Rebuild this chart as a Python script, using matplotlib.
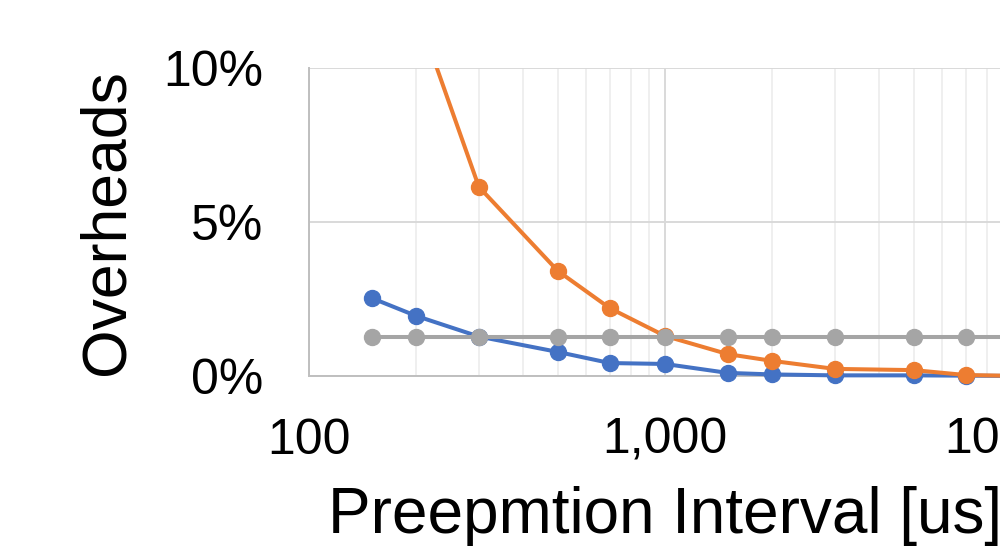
import matplotlib
matplotlib.use('Agg')
import matplotlib.pyplot as plt
from matplotlib.patches import Rectangle
from matplotlib.ticker import FixedLocator, LogLocator, NullFormatter

plt.rcParams['font.family'] = ['Liberation Sans', 'DejaVu Sans']

# preemption interval [us]
intervals = [150, 200, 300, 500, 700, 1000, 1500, 2000, 3000, 5000, 7000, 10000]
# overheads in %
blue_vals = [2.53, 1.95, 1.28, 0.78, 0.42, 0.39, 0.10, 0.05, 0.02, 0.02, 0.01, 0.0]
orange_vals = [20.0, 11.9, 6.14, 3.41, 2.2, 1.3, 0.71, 0.49, 0.23, 0.19, 0.03, 0.0]
gray_vals = [1.26] * len(intervals)

xticks = [100, 1000, 10000]
xtick_labels = ['100', '1,000', '10,000']
yticks = [0, 5, 10]
ytick_labels = ['0%', '5%', '10%']

fig = plt.figure(figsize=(10, 5.46), dpi=100)
# the axes runs a bit past the right edge, as in the cropped original
ax = fig.add_axes([0.309, 0.3114, 0.712, 0.5641])

style = dict(linewidth=2.9, marker='o', markersize=11.5, zorder=3)
ax.plot(intervals, blue_vals, color='#4472C4', clip_on=False, **style)
orange, = ax.plot(intervals, orange_vals, color='#ED7D31', **style)
ax.plot(intervals, gray_vals, color='#A5A5A5', clip_on=False, **style)

# orange goes off the top: clip only there, keep markers on the bottom edge whole
clip = Rectangle((-0.1, -0.1), 1.2, 1.1, transform=ax.transAxes, visible=False)
ax.add_patch(clip)
orange.set_clip_path(clip)

ax.set_xscale('log')
ax.set_xlim(100, 10000)
ax.set_ylim(0, 10)

ax.xaxis.set_major_locator(FixedLocator(xticks))
ax.set_xticklabels(xtick_labels)
ax.xaxis.set_minor_locator(LogLocator(base=10, subs=range(2, 10)))
ax.xaxis.set_minor_formatter(NullFormatter())
ax.set_yticks(yticks)
ax.set_yticklabels(ytick_labels)

ax.grid(which='major', color='#d9d9d9', linewidth=1.4)
ax.grid(which='minor', axis='x', color='#efefef', linewidth=1.4)
ax.set_axisbelow(True)

for s in ['top', 'right']:
    ax.spines[s].set_visible(False)
for s in ['left', 'bottom']:
    ax.spines[s].set_color('#bfbfbf')
    ax.spines[s].set_linewidth(1.4)

ax.tick_params(which='both', length=0)
ax.tick_params(axis='x', labelsize=36, pad=30)
ax.tick_params(axis='y', labelsize=36, pad=33)

ax.set_xlabel('Preepmtion Interval [us]', fontsize=46, labelpad=16)
ax.set_ylabel('Overheads', fontsize=45, labelpad=19)

fig.savefig('out.png', dpi=100)
